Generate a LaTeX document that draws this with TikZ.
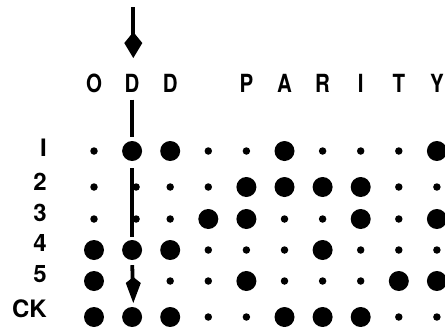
\documentclass[tikz,border=0pt]{standalone}
\usepackage{fontspec}
\setmainfont{TeX Gyre Heros}
\begin{document}
\begin{tikzpicture}[x=1pt,y=-1pt,
  dotB/.style={circle,fill=black,inner sep=0pt,minimum size=20pt},
  dots/.style={circle,fill=black,inner sep=0pt,minimum size=7.5pt},
  dotS/.style={dots,xshift=4pt},
  dotn/.style={shape=coordinate},
  hdr/.style={inner sep=0pt,text height=18pt,text depth=0pt},
  lbl/.style={anchor=east,inner sep=0pt,text height=17pt,text depth=0pt},
  shaft/.style={line width=3.8pt}
]
\useasboundingbox (0,0) rectangle (445,327);
% header letters
\foreach \c/\t in {1/O,2/D,3/D,5/P,6/A,7/R,8/I,9/T,10/Y}
  \node[hdr] (h\c) at ({94+38.1*(\c-1)},83) {\scalebox{0.82}[1]{\fontsize{25}{25}\selectfont\bfseries \t}};
% row labels
\foreach \r/\y/\t in {1/148/I,2/182/2,3/213/3,4/243/4,5/274/5,6/309/CK}
  \node[lbl] (l\r) at (47,\y) {\fontsize{24}{24}\selectfont\bfseries \t};
% dots
\foreach \r/\y/\pat in {
  1/151/{s,B,B,s,s,B,s,s,s,B},
  2/187/{s,S,s,s,B,B,B,B,s,s},
  3/219/{s,S,s,B,B,s,s,B,s,B},
  4/250/{B,B,B,s,s,s,B,s,s,s},
  5/281/{B,n,s,s,B,s,s,s,B,B},
  6/317/{B,B,B,s,s,B,B,B,s,s}}
  \foreach \t [count=\c] in \pat
    \node[dot\t] (d\r-\c) at ({94+38.1*(\c-1)},\y) {};
% arrows
\coordinate (start) at (133.3,7);
\coordinate (toptip) at (133.3,58);
\coordinate (tip) at (133.3,303);
\draw[shaft,shorten >=20pt] (start) -- (toptip);
\fill (toptip) -- ++(-9,-15) -- ++(9,-11) -- ++(9,11) -- cycle;
\draw[shaft,shorten <=7.5pt,shorten >=4pt] (h2.south) -- (d1-2.north);
\draw[shaft,shorten <=7pt,shorten >=3pt] (d1-2.south) -- (d4-2.north);
\draw[shaft,shorten <=5pt,shorten >=16pt] (d4-2.south) -- (tip);
\fill (tip) -- ++(-7.5,-20) -- ++(7.5,-6) -- ++(7.5,6) -- cycle;
\end{tikzpicture}
\end{document}
